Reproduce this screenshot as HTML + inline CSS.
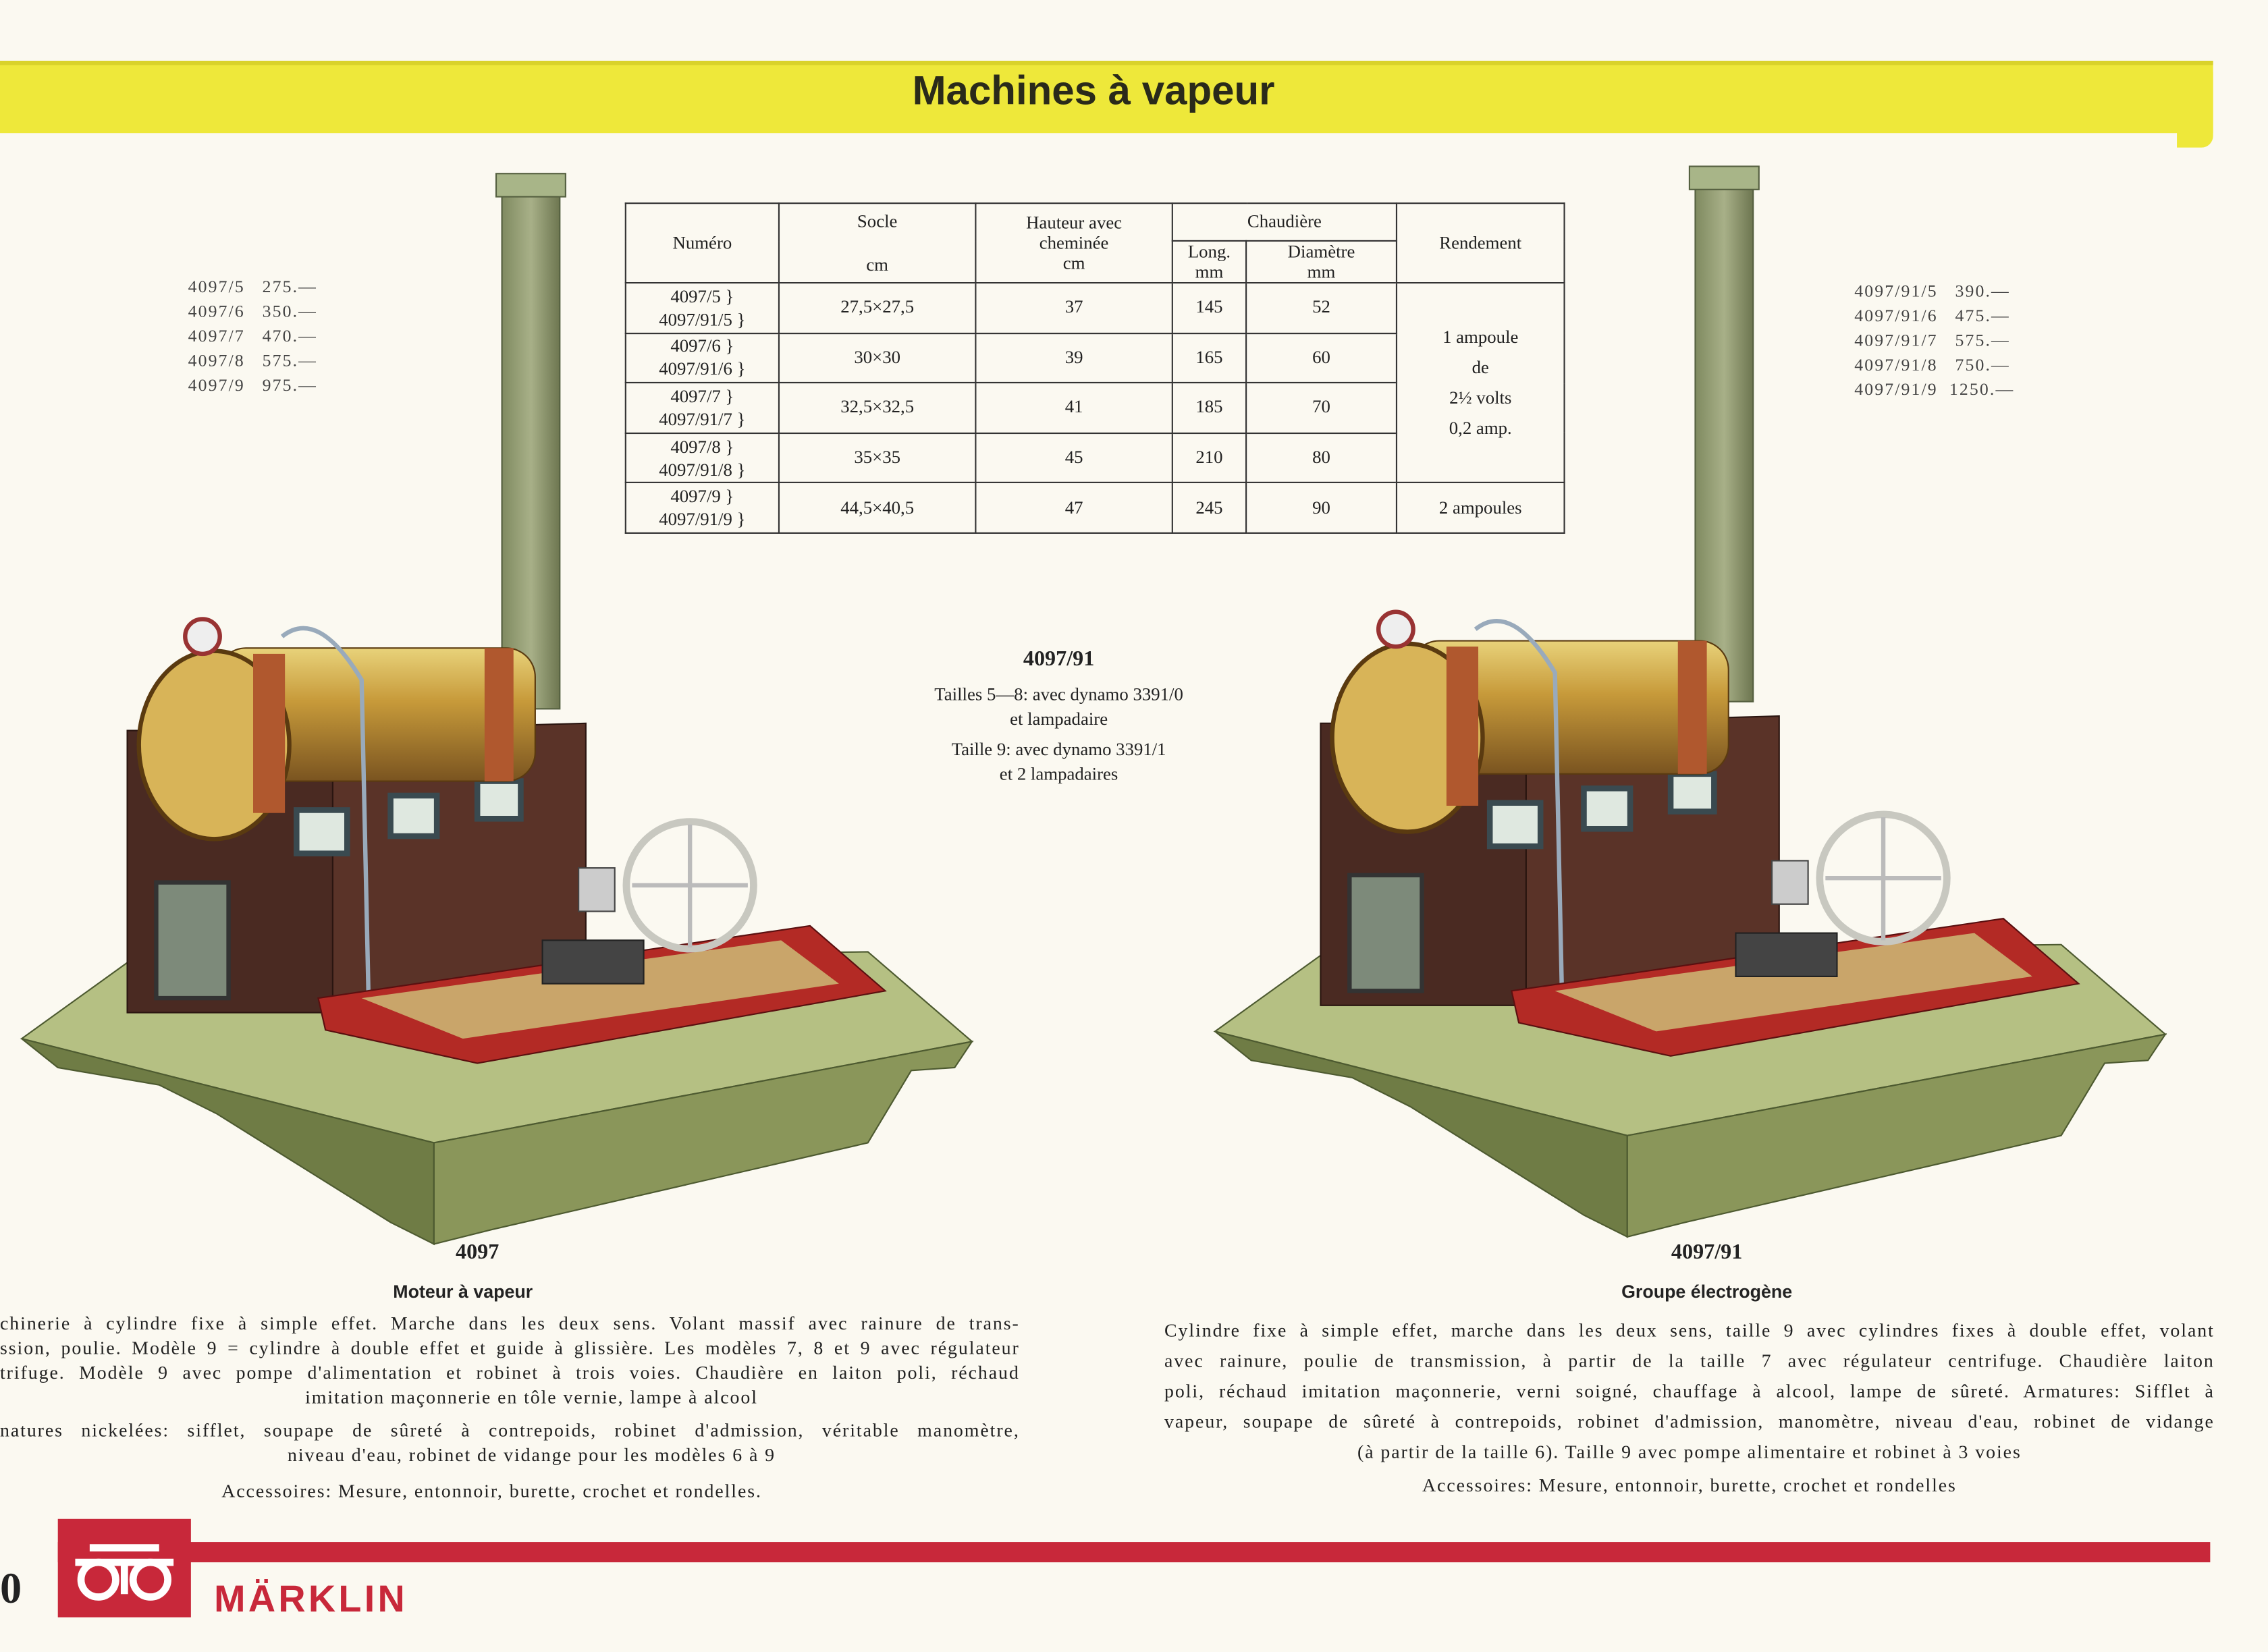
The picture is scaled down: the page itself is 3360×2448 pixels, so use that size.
<!DOCTYPE html>
<html><head><meta charset="utf-8">
<style>
html,body{margin:0;padding:0;background:#fbf9f1;}
#wrap{width:1568px;height:1142px;position:relative;transform:scale(2.1429,2.1436);transform-origin:0 0;background:#fbf9f1;font-family:"Liberation Serif",serif;color:#222;overflow:hidden;}
.abs{position:absolute;}
.price{font-size:12px;line-height:17px;color:#444;letter-spacing:1px;}
table{border-collapse:collapse;font-size:12.5px;}
td{border:1px solid #333;text-align:center;vertical-align:middle;padding:0;}
.cap{font-size:12.5px;text-align:center;line-height:17px;}
.desc{font-size:13px;line-height:21px;text-align:center;letter-spacing:.9px;}
.jl div{text-align:justify;text-align-last:justify;white-space:nowrap;}
.sans{font-family:"Liberation Sans",sans-serif;}
</style></head><body>
<div id="wrap">
<div class="abs" style="left:0;top:42px;width:1530px;height:50px;background:#eee83a;"></div>
<div class="abs" style="left:1505px;top:42px;width:25px;height:60px;background:#eee83a;border-radius:0 8px 8px 0;"></div>
<div class="abs" style="left:0;top:42px;width:1530px;height:3px;background:#d9d22a;"></div>
<div class="abs sans" style="left:556px;top:43px;width:400px;text-align:center;font-size:28px;font-weight:bold;line-height:40px;color:#2a2a1a;">Machines à vapeur</div>

<div class="abs price" style="left:130px;top:190px;">
4097/5&nbsp;&nbsp;&nbsp;275.—<br>4097/6&nbsp;&nbsp;&nbsp;350.—<br>4097/7&nbsp;&nbsp;&nbsp;470.—<br>4097/8&nbsp;&nbsp;&nbsp;575.—<br>4097/9&nbsp;&nbsp;&nbsp;975.—</div>
<div class="abs price" style="left:1282px;top:193px;">
4097/91/5&nbsp;&nbsp;&nbsp;390.—<br>4097/91/6&nbsp;&nbsp;&nbsp;475.—<br>4097/91/7&nbsp;&nbsp;&nbsp;575.—<br>4097/91/8&nbsp;&nbsp;&nbsp;750.—<br>4097/91/9&nbsp;&nbsp;1250.—</div>

<table class="abs" style="left:432px;top:140px;width:650px;height:229px;">
<tr style="height:26px"><td rowspan="2" style="width:105px">Numéro</td><td rowspan="2" style="width:135px">Socle<br><br>cm</td><td rowspan="2" style="width:135px;line-height:14px">Hauteur avec<br>cheminée<br>cm</td><td colspan="2">Chaudière</td><td rowspan="2">Rendement</td></tr>
<tr style="height:26px"><td style="width:50px;line-height:14px">Long.<br>mm</td><td style="width:103px;line-height:14px">Diamètre<br>mm</td></tr>
<tr><td style="line-height:16px">4097/5 }<br>4097/91/5 }</td><td>27,5×27,5</td><td>37</td><td>145</td><td>52</td><td rowspan="4" style="line-height:21px">1 ampoule<br>de<br>2½ volts<br>0,2 amp.</td></tr>
<tr><td style="line-height:16px">4097/6 }<br>4097/91/6 }</td><td>30×30</td><td>39</td><td>165</td><td>60</td></tr>
<tr><td style="line-height:16px">4097/7 }<br>4097/91/7 }</td><td>32,5×32,5</td><td>41</td><td>185</td><td>70</td></tr>
<tr><td style="line-height:16px">4097/8 }<br>4097/91/8 }</td><td>35×35</td><td>45</td><td>210</td><td>80</td></tr>
<tr><td style="line-height:16px">4097/9 }<br>4097/91/9 }</td><td>44,5×40,5</td><td>47</td><td>245</td><td>90</td><td>2 ampoules</td></tr>
</table>

<div class="abs" style="left:632px;top:448px;width:200px;text-align:center;font-weight:bold;font-size:15px;">4097/91</div>
<div class="abs cap" style="left:582px;top:472px;width:300px;">Tailles 5—8: avec dynamo 3391/0<br>et lampadaire</div>
<div class="abs cap" style="left:582px;top:510px;width:300px;">Taille 9: avec dynamo 3391/1<br>et 2 lampadaires</div>

<svg class="abs" style="left:0;top:0" width="1568" height="1142">
<defs>
<linearGradient id="brass" x1="0" y1="0" x2="0" y2="1"><stop offset="0" stop-color="#e8d27a"/><stop offset=".4" stop-color="#c79a3a"/><stop offset="1" stop-color="#7a5420"/></linearGradient>
<linearGradient id="chim" x1="0" y1="0" x2="1" y2="0"><stop offset="0" stop-color="#7f8a60"/><stop offset=".5" stop-color="#a8b088"/><stop offset="1" stop-color="#6d7650"/></linearGradient>
<g id="m">
<rect x="347" y="130" width="40" height="360" fill="url(#chim)" stroke="#556040"/>
<rect x="343" y="120" width="48" height="16" fill="#a8b588" stroke="#556040"/>
<polygon points="90,664 600,658 672,720 300,790 15,718" fill="#b5c083" stroke="#4d5a30"/>
<polygon points="15,718 300,790 300,860 270,845 150,770 110,750 40,738" fill="#6f7c45" stroke="#4d5a30"/>
<polygon points="300,790 672,720 660,738 630,740 600,790 340,850 300,860" fill="#8a965a" stroke="#4d5a30"/>
<polygon points="230,505 405,500 405,690 230,700" fill="#5a3328" stroke="#2a1510"/>
<rect x="88" y="505" width="142" height="195" fill="#4a2a22" stroke="#2a1510"/>
<rect x="205" y="560" width="35" height="30" fill="#dfe8e0" stroke="#3a4a50" stroke-width="4"/>
<rect x="270" y="550" width="32" height="28" fill="#dfe8e0" stroke="#3a4a50" stroke-width="4"/>
<rect x="330" y="540" width="30" height="26" fill="#dfe8e0" stroke="#3a4a50" stroke-width="4"/>
<rect x="108" y="610" width="50" height="80" fill="#7d8a7a" stroke="#333" stroke-width="3"/>
<rect x="150" y="448" width="220" height="92" rx="20" fill="url(#brass)" stroke="#5a3a10"/>
<ellipse cx="148" cy="515" rx="52" ry="65" fill="#d8b458" stroke="#5a3a10" stroke-width="3"/>
<rect x="175" y="452" width="22" height="110" fill="#b0582e"/>
<rect x="335" y="448" width="20" height="92" fill="#b0582e"/>
<circle cx="140" cy="440" r="12" fill="#eee" stroke="#933" stroke-width="3"/>
<path d="M195,440 Q220,420 250,470 L255,700" fill="none" stroke="#9ab" stroke-width="3"/>
<polygon points="220,690 560,640 612,685 330,735 225,712" fill="#b32a25" stroke="#5a1010"/>
<polygon points="250,690 540,650 580,680 320,718" fill="#c9a56a"/>
<circle cx="477" cy="612" r="44" fill="none" stroke="#c8c8c0" stroke-width="5"/>
<line x1="477" y1="570" x2="477" y2="655" stroke="#bbb" stroke-width="3"/>
<line x1="437" y1="612" x2="517" y2="612" stroke="#bbb" stroke-width="3"/>
<rect x="375" y="650" width="70" height="30" fill="#444" stroke="#222"/>
<rect x="400" y="600" width="25" height="30" fill="#ccc" stroke="#444"/>
</g>
</defs>
<use href="#m"/>
<use href="#m" transform="translate(825,-5)"/>
</svg>

<div class="abs" style="left:230px;top:858px;width:200px;text-align:center;font-weight:bold;font-size:15px;">4097</div>
<div class="abs sans" style="left:170px;top:886px;width:300px;text-align:center;font-weight:bold;font-size:12.5px;">Moteur à vapeur</div>
<div class="abs desc jl" style="left:0;top:906px;width:705px;line-height:17px;">
<div>chinerie à cylindre fixe à simple effet. Marche dans les deux sens. Volant massif avec rainure de trans-</div>
<div>ssion, poulie. Modèle 9 = cylindre à double effet et guide à glissière. Les modèles 7, 8 et 9 avec régulateur</div>
<div>trifuge. Modèle 9 avec pompe d'alimentation et robinet à trois voies. Chaudière en laiton poli, réchaud</div>
<div style="text-align:center;text-align-last:center;padding-left:30px">imitation maçonnerie en tôle vernie, lampe à alcool</div></div>
<div class="abs desc jl" style="left:0;top:980px;width:705px;line-height:17px;">
<div>natures nickelées: sifflet, soupape de sûreté à contrepoids, robinet d'admission, véritable manomètre,</div>
<div style="text-align:center;text-align-last:center;padding-left:30px">niveau d'eau, robinet de vidange pour les modèles 6 à 9</div></div>
<div class="abs desc" style="left:0;top:1020px;width:680px;">Accessoires: Mesure, entonnoir, burette, crochet et rondelles.</div>

<div class="abs" style="left:1080px;top:858px;width:200px;text-align:center;font-weight:bold;font-size:15px;">4097/91</div>
<div class="abs sans" style="left:1030px;top:886px;width:300px;text-align:center;font-weight:bold;font-size:12.5px;">Groupe électrogène</div>
<div class="abs desc jl" style="left:805px;top:909px;width:726px;">
<div>Cylindre fixe à simple effet, marche dans les deux sens, taille 9 avec cylindres fixes à double effet, volant</div>
<div>avec rainure, poulie de transmission, à partir de la taille 7 avec régulateur centrifuge. Chaudière laiton</div>
<div>poli, réchaud imitation maçonnerie, verni soigné, chauffage à alcool, lampe de sûreté. Armatures: Sifflet à</div>
<div>vapeur, soupape de sûreté à contrepoids, robinet d'admission, manomètre, niveau d'eau, robinet de vidange</div>
<div style="text-align:center;text-align-last:center">(à partir de la taille 6). Taille 9 avec pompe alimentaire et robinet à 3 voies</div></div>
<div class="abs desc" style="left:805px;top:1016px;width:726px;">Accessoires: Mesure, entonnoir, burette, crochet et rondelles</div>

<div class="abs" style="left:40px;top:1066px;width:1488px;height:14px;background:#c8283a;"></div>
<div class="abs" style="left:40px;top:1050px;width:92px;height:68px;background:#c8283a;"></div>
<svg class="abs" style="left:40px;top:1050px" width="92" height="68"><g fill="none" stroke="#fff" stroke-width="5"><circle cx="28" cy="42" r="12"/><circle cx="64" cy="42" r="12"/><path d="M12,30 H80 M46,30 V52 M22,20 H70"/></g></svg>
<div class="abs" style="left:0;top:1082px;font-size:30px;font-weight:bold;">0</div>
<div class="abs sans" style="left:148px;top:1090px;font-size:26px;font-weight:bold;color:#c8283a;letter-spacing:2px;">MÄRKLIN</div>
</div>
</body></html>
